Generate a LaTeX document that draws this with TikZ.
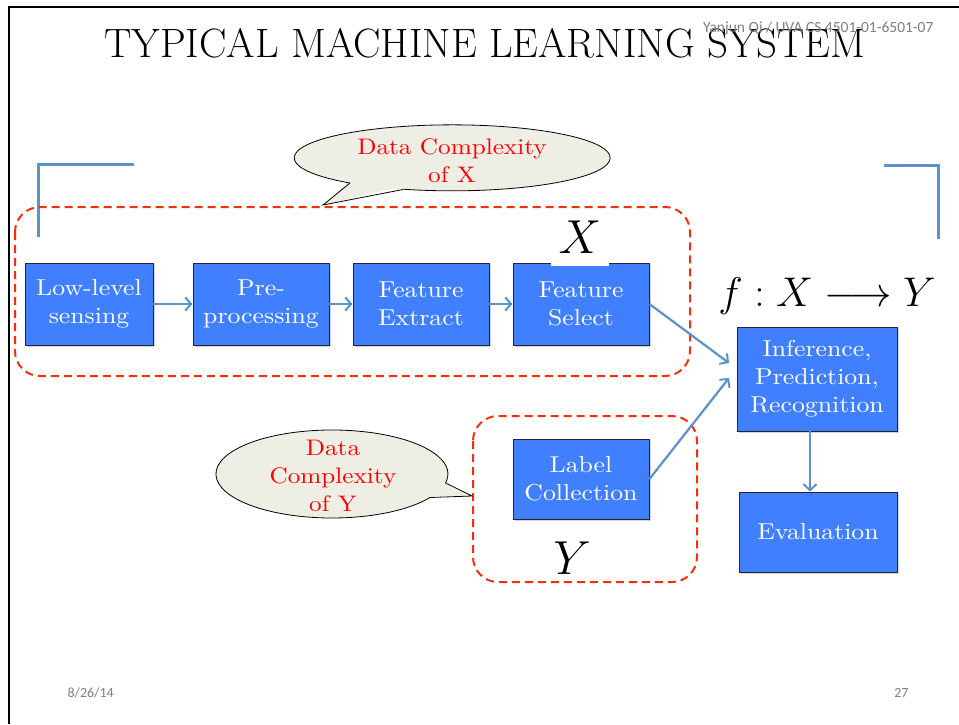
\documentclass[tikz,border=0pt]{standalone}
\usepackage{graphicx}
\usepackage{fontspec}
\newfontfamily\calib{Carlito}
\newfontfamily\wideser{lmroman10-regular.otf}[FakeStretch=1.12]
\usetikzlibrary{arrows.meta,shadows,calc}
\definecolor{boxblue}{RGB}{64,128,255}
\definecolor{arrblue}{RGB}{92,146,200}
\definecolor{dashred}{RGB}{250,45,10}
\definecolor{callfill}{RGB}{238,238,228}
\definecolor{footgray}{RGB}{128,128,128}
\begin{document}
\begin{tikzpicture}[x=1pt,y=-1pt,
  bbox/.style={draw=black!85, line width=0.9pt, fill=boxblue, text=white, align=center,
    font=\wideser\fontsize{23}{28}\selectfont, inner sep=0pt,
    drop shadow={shadow xshift=1.5pt, shadow yshift=-1.5pt, opacity=0.35}},
  conn/.style={draw=arrblue, line width=2.2pt, -{Straight Barb[length=6pt,width=13pt,line width=2pt]}},
  brk/.style={draw=arrblue, line width=3pt},
  reddash/.style={draw=dashred, line width=2pt, dash pattern=on 8pt off 5pt, rounded corners=25pt},
  calltext/.style={text=red, align=center, font=\wideser\fontsize{22.5}{28}\selectfont},
  graytext/.style={text=footgray, font=\calib\fontsize{14}{16}\selectfont},
  mathlab/.style={font=\fontsize{20}{24}\selectfont}
]
\useasboundingbox (0,0) rectangle (959,724);
\fill[white] (0,0) rectangle (959,724);
% slide border
\draw[line width=1.5pt] (959,7) -- (9,7) -- (9,724);

% title
\node[font=\fontsize{41}{45}\selectfont, anchor=base] (title) at (485,57) {TYPICAL MACHINE LEARNING SYSTEM};
\node[graytext, font=\calib\fontsize{15.5}{17}\selectfont, anchor=base east] (author) at (937,32) {Yanjun Qi / UVA CS 4501-01-6501-07};

% brackets
\draw[brk] (38,237) -- (38,164) -- (134,164);
\draw[brk] (884,165) -- (938,165) -- (938,239);

% dashed regions
\draw[reddash] (15,207) rectangle (690,376);
\draw[reddash] (473,416) rectangle (697,582);

% boxes
\node[bbox, minimum width=128pt, minimum height=82pt] (low) at (89,304) {Low-level\\sensing};
\node[bbox, minimum width=136pt, minimum height=82pt] (pre) at (261,304) {Pre-\\processing};
\node[bbox, minimum width=136pt, minimum height=82pt] (fext) at (421,304) {Feature\\Extract};
\node[bbox, minimum width=136pt, minimum height=82pt] (fsel) at (581,304) {Feature\\Select};
\node[bbox, minimum width=160pt, minimum height=104pt] (infer) at (817,379) {Inference,\\Prediction,\\Recognition};
\node[bbox, minimum width=158pt, minimum height=80pt] (eval) at (818,532) {Evaluation};
\node[bbox, minimum width=136pt, minimum height=80pt] (label) at (581,479) {Label\\Collection};

% math labels
\node[mathlab, fill=white, inner xsep=8pt, inner ysep=2pt, text depth=11pt, anchor=base] (xlab) at (580,253) {\scalebox{2.3}{$X$}};
\node[mathlab, anchor=base] (ylab) at (572,574) {\scalebox{2.3}{$Y$}};
\node[mathlab, anchor=base] (fmap) at (827,306) {\scalebox{2.0}{$f : X \longrightarrow Y$}};

% connectors
\coordinate (tipA) at (729,363);
\coordinate (tipB) at (729,378);
\draw[conn] (low.east) -- (pre.west);
\draw[conn] (pre.east) -- (fext.west);
\draw[conn] (fext.east) -- (fsel.west);
\draw[conn] (fsel.east) -- (tipA);
\draw[conn] (label.east) -- (tipB);
\draw[conn] ([xshift=-7pt]infer.south) -- ([xshift=-7pt]infer.south |- eval.north);

% callout X
\fill[callfill] (452,158) ellipse [x radius=158, y radius=33];
\fill[callfill] (350,180) -- (323,205) -- (403,186) -- cycle;
\draw[line width=0.8pt] (350,183) arc[start angle=130.3, end angle=468, x radius=158, y radius=33];
\draw[line width=0.8pt] (350,183) -- (323,205) -- (403,189.5);
\node[calltext] (cx) at (452,161) {Data Complexity\\of X};

% callout Y
\fill[callfill] (332,474) ellipse [x radius=116, y radius=44];
\fill[callfill] (443,483) -- (472,496) -- (430,496) -- cycle;
\draw[line width=0.8pt] (430,497.5) arc[start angle=32.3, end angle=371.8, x radius=116, y radius=44];
\draw[line width=0.8pt] (445.6,483) -- (472,496) -- (430,497.5);
\node[calltext] (cy) at (333,476) {Data\\Complexity\\of Y};

% footer
\node[graytext, anchor=base west] (date) at (64,697) {8/26/14};
\node[graytext, anchor=base east] (page) at (912,697) {27};
\end{tikzpicture}
\end{document}
